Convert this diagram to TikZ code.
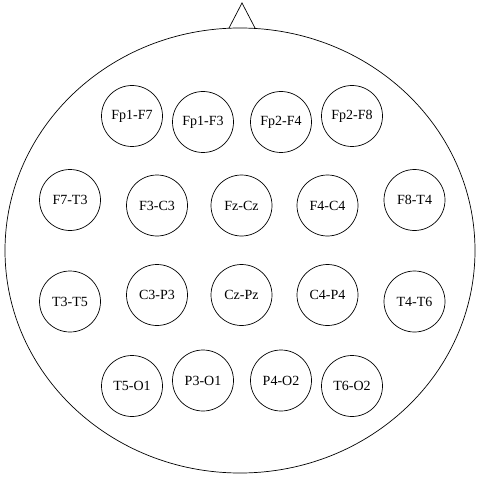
\documentclass[tikz,border=0pt]{standalone}
\usepackage{fontspec}
\setmainfont{Liberation Serif}
\usepackage{tikz}

\begin{document}
\begin{tikzpicture}[
    x=1pt, y=-1pt,
    elec/.style={draw, circle, minimum size=61pt, inner sep=0pt,
                 line width=0.7pt, font=\fontsize{14}{16}\selectfont},
    head/.style={line width=0.7pt},
]
\useasboundingbox (0,0) rectangle (476,481);

% head outline and nose
\draw[head] (240,250.5) ellipse [x radius=235, y radius=222.5];
\draw[head] (229,28) -- (242,3) -- (255,28);

% row 1
\node[elec] (fp1f7) at (132,116) {Fp1-F7};
\node[elec] (fp1f3) at (203,122) {Fp1-F3};
\node[elec] (fp2f4) at (281,122) {Fp2-F4};
\node[elec] (fp2f8) at (352,116) {Fp2-F8};

% row 2
\node[elec] (f7t3) at (70,200) {F7-T3};
\node[elec] (f3c3) at (157,205.5) {F3-C3};
\node[elec] (fzcz) at (241.5,205.5) {Fz-Cz};
\node[elec] (f4c4) at (327.5,205.5) {F4-C4};
\node[elec] (f8t4) at (414.5,200) {F8-T4};

% row 3
\node[elec] (t3t5) at (70,301.5) {T3-T5};
\node[elec] (c3p3) at (157,295) {C3-P3};
\node[elec] (czpz) at (241.5,295) {Cz-Pz};
\node[elec] (c4p4) at (327.5,295) {C4-P4};
\node[elec] (t4t6) at (414.5,301.5) {T4-T6};

% row 4
\node[elec] (t5o1) at (132,386) {T5-O1};
\node[elec] (p3o1) at (203,380.5) {P3-O1};
\node[elec] (p4o2) at (281,380.5) {P4-O2};
\node[elec] (t6o2) at (352,386) {T6-O2};
\end{tikzpicture}
\end{document}
